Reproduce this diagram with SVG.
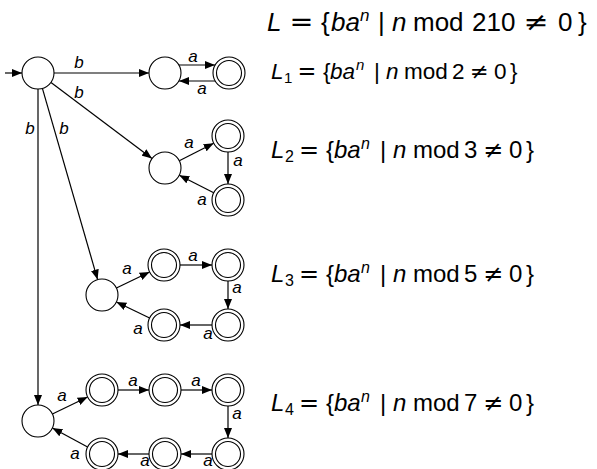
<svg xmlns="http://www.w3.org/2000/svg" width="597" height="469" viewBox="0 0 597 469">
<style>
.s{fill:#fff;stroke:#000;stroke-width:1.1}
.e{fill:none;stroke:#000;stroke-width:1.2;marker-end:url(#ah)}
.l{font-family:"Liberation Sans","DejaVu Sans",sans-serif;font-style:italic;font-size:17px;fill:#000;text-anchor:middle}
.t{font-family:"Liberation Sans","DejaVu Sans",sans-serif;fill:#000}
.i{font-style:italic}
.r{font-family:"DejaVu Sans",sans-serif;fill:#000;text-anchor:middle}
</style>
<defs>
<marker id="ah" viewBox="0 0 10 8" refX="10" refY="4" markerWidth="10" markerHeight="8" markerUnits="userSpaceOnUse" orient="auto">
<path d="M0,0 L10,4 L0,8 z" fill="#000"/>
</marker>
<g id="acc"><circle r="16" class="s"/><circle r="12.5" class="s"/></g>
</defs>
<rect width="597" height="469" fill="#fff"/>

<g id="connectors">
<line class="e" x1="5" y1="73" x2="22" y2="73"/>
<line class="e" x1="54" y1="73" x2="149" y2="73"/>
<line class="e" x1="51" y1="82.6" x2="152" y2="158.4"/>
<line class="e" x1="42.4" y1="88.4" x2="97.6" y2="279.6"/>
<line class="e" x1="38" y1="89" x2="38" y2="405"/>
<line class="e" x1="179" y1="65" x2="215" y2="65"/>
<line class="e" x1="215" y1="81" x2="179" y2="81"/>
<line class="e" x1="179.3" y1="160.8" x2="213.7" y2="143.2"/>
<line class="e" x1="228" y1="152" x2="228" y2="184"/>
<line class="e" x1="213.7" y1="192.8" x2="179.3" y2="175.2"/>
<line class="e" x1="116.4" y1="288" x2="149.6" y2="272"/>
<line class="e" x1="180" y1="265" x2="212" y2="265"/>
<line class="e" x1="228" y1="281" x2="228" y2="309"/>
<line class="e" x1="212" y1="325" x2="180" y2="325"/>
<line class="e" x1="149.6" y1="318" x2="116.4" y2="302"/>
<line class="e" x1="52.4" y1="414" x2="87.6" y2="397"/>
<line class="e" x1="118" y1="390" x2="149" y2="390"/>
<line class="e" x1="181" y1="390" x2="212" y2="390"/>
<line class="e" x1="228" y1="406" x2="228" y2="438"/>
<line class="e" x1="212" y1="454" x2="181" y2="454"/>
<line class="e" x1="149" y1="454" x2="118" y2="454"/>
<line class="e" x1="87.6" y1="447" x2="52.4" y2="428"/>
<text class="l" x="79" y="68">b</text>
<text class="l" x="79" y="98">b</text>
<text class="l" x="64" y="134">b</text>
<text class="l" x="30" y="134">b</text>
<text class="l" x="193" y="62">a</text>
<text class="l" x="202" y="94">a</text>
<text class="l" x="189" y="148">a</text>
<text class="l" x="238" y="166">a</text>
<text class="l" x="202" y="205">a</text>
<text class="l" x="127" y="274">a</text>
<text class="l" x="193" y="261">a</text>
<text class="l" x="237" y="293">a</text>
<text class="l" x="208" y="339">a</text>
<text class="l" x="138" y="334">a</text>
<text class="l" x="62" y="401">a</text>
<text class="l" x="133" y="386">a</text>
<text class="l" x="196" y="386">a</text>
<text class="l" x="237" y="419">a</text>
<text class="l" x="208" y="466">a</text>
<text class="l" x="145" y="466">a</text>
<text class="l" x="75" y="459">a</text>
</g>

<g id="q0"><circle cx="38" cy="73" r="16" class="s"/></g>
<g id="p1"><circle cx="165" cy="73" r="16" class="s"/></g>
<g id="p1a"><use href="#acc" x="229" y="73"/></g>
<g id="p2"><circle cx="165" cy="168" r="16" class="s"/></g>
<g id="p2a"><use href="#acc" x="228" y="136"/></g>
<g id="p2b"><use href="#acc" x="228" y="200"/></g>
<g id="p3"><circle cx="102" cy="295" r="16" class="s"/></g>
<g id="p3a"><use href="#acc" x="164" y="265"/></g>
<g id="p3b"><use href="#acc" x="228" y="265"/></g>
<g id="p3c"><use href="#acc" x="228" y="325"/></g>
<g id="p3d"><use href="#acc" x="164" y="325"/></g>
<g id="p4"><circle cx="38" cy="421" r="16" class="s"/></g>
<g id="p4a"><use href="#acc" x="102" y="390"/></g>
<g id="p4b"><use href="#acc" x="165" y="390"/></g>
<g id="p4c"><use href="#acc" x="228" y="390"/></g>
<g id="p4d"><use href="#acc" x="228" y="454"/></g>
<g id="p4e"><use href="#acc" x="165" y="454"/></g>
<g id="p4f"><use href="#acc" x="102" y="454"/></g>

<g id="labels">
<text class="t" font-size="26"><tspan class="i" x="267" y="31">L</tspan><tspan x="321" y="31">{</tspan><tspan class="i" x="331" y="31">ba</tspan><tspan class="i" font-size="17" x="360" y="21">n</tspan><tspan x="378" y="31">|</tspan><tspan class="i" x="392" y="31">n</tspan><tspan x="413" y="31">mod</tspan><tspan x="472" y="31">210</tspan><tspan x="558" y="31">0</tspan><tspan x="578" y="31">}</tspan></text>
<text class="r" font-size="26" transform="translate(301.5,31) scale(1.1,1)">=</text>
<text class="r" font-size="26" transform="translate(536,31) scale(1.15,1)">≠</text>

<text class="t" font-size="22.5"><tspan class="i" x="271" y="79">L</tspan><tspan font-size="15" x="284" y="83">1</tspan><tspan x="323" y="79">{</tspan><tspan class="i" x="330" y="79">ba</tspan><tspan class="i" font-size="15" x="356" y="70">n</tspan><tspan x="374" y="79">|</tspan><tspan class="i" x="386" y="79">n</tspan><tspan x="404" y="79">mod</tspan><tspan x="452" y="79">2</tspan><tspan x="494" y="79">0</tspan><tspan x="510" y="79">}</tspan></text>
<text class="r" font-size="22.5" x="307" y="79">=</text>
<text class="r" font-size="22.5" x="479.5" y="79">≠</text>

<text class="t" font-size="24"><tspan class="i" x="271" y="158">L</tspan><tspan font-size="16" x="285" y="162">2</tspan><tspan x="326" y="158">{</tspan><tspan class="i" x="334" y="158">ba</tspan><tspan class="i" font-size="16" x="361" y="149">n</tspan><tspan x="380" y="158">|</tspan><tspan class="i" x="393" y="158">n</tspan><tspan x="413" y="158">mod</tspan><tspan x="464" y="158">3</tspan><tspan x="509" y="158">0</tspan><tspan x="526" y="158">}</tspan></text>
<text class="r" font-size="24" x="309" y="158">=</text>
<text class="r" font-size="24" x="493" y="158">≠</text>

<text class="t" font-size="24"><tspan class="i" x="271" y="282">L</tspan><tspan font-size="16" x="285" y="286">3</tspan><tspan x="326" y="282">{</tspan><tspan class="i" x="334" y="282">ba</tspan><tspan class="i" font-size="16" x="361" y="273">n</tspan><tspan x="380" y="282">|</tspan><tspan class="i" x="393" y="282">n</tspan><tspan x="413" y="282">mod</tspan><tspan x="464" y="282">5</tspan><tspan x="509" y="282">0</tspan><tspan x="526" y="282">}</tspan></text>
<text class="r" font-size="24" x="309" y="282">=</text>
<text class="r" font-size="24" x="493" y="282">≠</text>

<text class="t" font-size="24"><tspan class="i" x="271" y="411">L</tspan><tspan font-size="16" x="285" y="415">4</tspan><tspan x="326" y="411">{</tspan><tspan class="i" x="334" y="411">ba</tspan><tspan class="i" font-size="16" x="361" y="402">n</tspan><tspan x="380" y="411">|</tspan><tspan class="i" x="393" y="411">n</tspan><tspan x="413" y="411">mod</tspan><tspan x="464" y="411">7</tspan><tspan x="509" y="411">0</tspan><tspan x="526" y="411">}</tspan></text>
<text class="r" font-size="24" x="309" y="411">=</text>
<text class="r" font-size="24" x="493" y="411">≠</text>
</g>
</svg>
